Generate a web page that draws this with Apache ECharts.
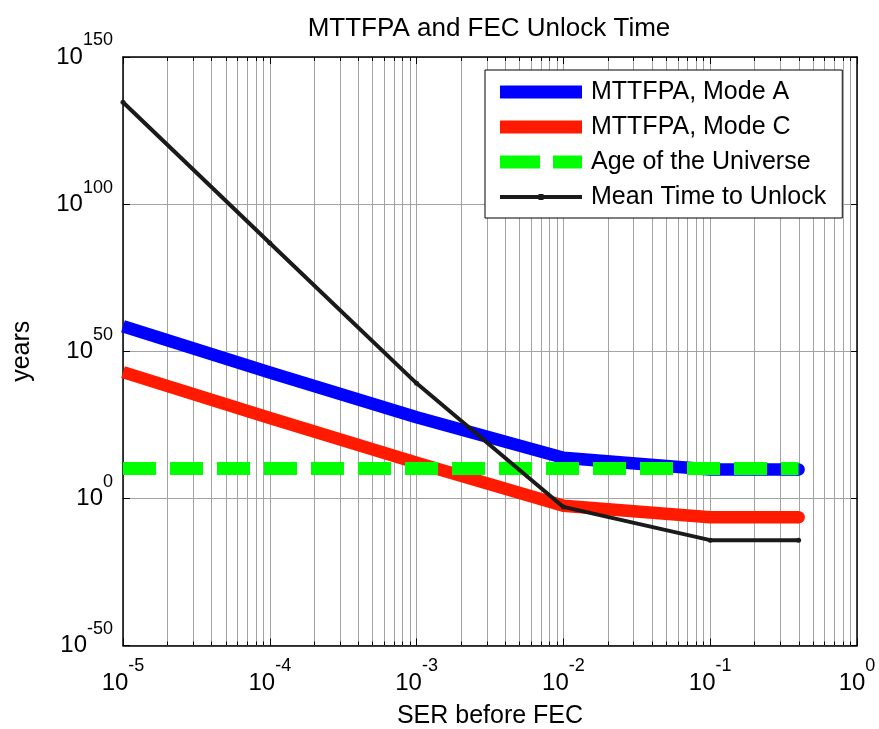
<!DOCTYPE html>
<html>
<head>
<meta charset="utf-8">
<title>MTTFPA and FEC Unlock Time</title>
<script src="https://cdn.jsdelivr.net/npm/echarts@6/dist/echarts.min.js"></script>
<style>
  html, body { margin: 0; padding: 0; background: #ffffff; }
  #chart { width: 879px; height: 729px; }
</style>
</head>
<body>
<div id="chart"></div>
<script>
// Symbol error rate before FEC at which each curve is evaluated
const serValues = [1e-5, 1e-4, 1e-3, 1e-2, 1e-1, 0.4];

// Times in years, given as log10(years)
const modeALog10Years  = [58.5, 42.8, 27.6, 13.8, 9.8, 9.8];
const modeCLog10Years  = [42.9, 27.3, 12.1, -2.5, -6.4, -6.4];
const unlockLog10Years = [134.6, 86.8, 39.1, -2.9, -14.2, -14.2];

// Age of the universe (~1.38e10 years) across the evaluated SER span
const universeSer        = [1e-5, 0.4];
const universeLog10Years = [10.14, 10.14];

// Decade ticks (exponents of 10) and the in-between grid multipliers
const xTickExponents   = [-5, -4, -3, -2, -1, 0];
const yTickExponents   = [-50, 0, 50, 100, 150];
const minorMultipliers = [2, 3, 4, 5, 6, 7, 8, 9];

const FONT = '"Liberation Sans", Arial, Helvetica, sans-serif';
const GRID_COLOR = '#a3a3a3';

// Log-decade grid positions between the labelled decades
const minorExponents = [];
xTickExponents.slice(0, -1).forEach(function (k) {
  minorMultipliers.forEach(function (m) { minorExponents.push(k + Math.log10(m)); });
});

function toPoints(xs, ys) {
  return xs.map(function (x, i) { return [Math.log10(x), ys[i]]; });
}

// Thick curves get a rounded end on their last point only
function withRoundEnd(points, size) {
  return points.map(function (p, i) {
    return i === points.length - 1
      ? { value: p, symbol: 'circle', symbolSize: size }
      : { value: p, symbol: 'none' };
  });
}

function powerLabel(v) {
  return '{b|10}{s|' + Math.round(v) + '}';
}

// "10" sits in the middle of a tall line, the exponent hugs its top
const powerRich = {
  b: { fontFamily: FONT, fontSize: 24, lineHeight: 51, color: '#000', verticalAlign: 'middle' },
  s: { fontFamily: FONT, fontSize: 18, lineHeight: 18, color: '#000', verticalAlign: 'top' }
};

const chart = echarts.init(document.getElementById('chart'), null, { renderer: 'canvas' });

const xMin = xTickExponents[0], xMax = xTickExponents[xTickExponents.length - 1];
const yMin = yTickExponents[0], yMax = yTickExponents[yTickExponents.length - 1];

function boxAxis(extra) {
  return Object.assign({
    type: 'value',
    nameMoveOverlap: false,
    axisLine: { show: true, onZero: false, lineStyle: { color: '#000', width: 1.5 } },
    axisTick: { show: true, inside: true, length: 7, lineStyle: { color: '#000', width: 1 } }
  }, extra);
}

const option = {
  animation: false,
  backgroundColor: '#ffffff',
  title: {
    text: 'MTTFPA and FEC Unlock Time',
    left: 489,
    top: 16,
    padding: 0,
    textAlign: 'center',
    textStyle: { fontFamily: FONT, fontSize: 26, fontWeight: 'normal', color: '#000' }
  },
  grid: {
    left: 123, right: 22, top: 57, bottom: 83.5,
    containLabel: false,
    outerBoundsMode: 'none'
  },
  legend: {
    orient: 'vertical',
    left: 485,
    top: 70,
    padding: [9, 16, 8, 15],
    itemGap: 9,
    itemWidth: 82,
    itemHeight: 13,
    backgroundColor: '#ffffff',
    borderColor: '#000',
    borderWidth: 1,
    borderRadius: 0,
    selectedMode: false,
    textStyle: { fontFamily: FONT, fontSize: 25, lineHeight: 26, color: '#000', padding: [0, 0, 0, 4] },
    data: [
      { name: 'MTTFPA, Mode A', icon: 'rect' },
      { name: 'MTTFPA, Mode C', icon: 'rect' },
      { name: 'Age of the Universe', icon: 'path://M0,0H40V13H0Z M53,0H82V13H53Z' },
      { name: 'Mean Time to Unlock', icon: 'path://M0,4.5H82V8.5H0Z M38.5,3.5H43.5V9.5H38.5Z' }
    ]
  },
  xAxis: [
    boxAxis({
      position: 'bottom',
      min: xMin, max: xMax, interval: 1,
      name: 'SER before FEC',
      nameLocation: 'middle',
      nameGap: 58,
      nameTextStyle: { fontFamily: FONT, fontSize: 25, color: '#000', verticalAlign: 'top' },
      axisLabel: { show: true, margin: 12, fontSize: 24, formatter: powerLabel, rich: powerRich },
      splitLine: { show: true, lineStyle: { color: GRID_COLOR, width: 1 } }
    }),
    boxAxis({
      position: 'top',
      min: xMin, max: xMax, interval: 1,
      axisLabel: { show: false },
      splitLine: { show: false }
    })
  ],
  yAxis: [
    boxAxis({
      position: 'left',
      min: yMin, max: yMax, interval: 50,
      name: 'years',
      nameLocation: 'middle',
      nameGap: 88,
      nameRotate: 90,
      nameTextStyle: { fontFamily: FONT, fontSize: 25, color: '#000' },
      axisLabel: { show: true, margin: 10, fontSize: 24, formatter: powerLabel, rich: powerRich },
      splitLine: { show: true, lineStyle: { color: GRID_COLOR, width: 1 } }
    }),
    boxAxis({
      position: 'right',
      min: yMin, max: yMax, interval: 50,
      axisLabel: { show: false },
      splitLine: { show: false }
    })
  ],
  series: [
    {
      // minor decade grid lines with short ticks on the bottom and top edges
      type: 'custom',
      silent: true,
      xAxisIndex: 0,
      yAxisIndex: 0,
      z: 1,
      data: minorExponents.map(function (v) { return [v, yMin]; }),
      encode: { x: 0, y: 1 },
      renderItem: function (params, api) {
        const x = api.value(0);
        const b = api.coord([x, yMin]);
        const t = api.coord([x, yMax]);
        const px = Math.round(b[0]) + 0.5;
        return {
          type: 'group',
          children: [
            { type: 'line', shape: { x1: px, y1: b[1], x2: px, y2: t[1] },
              style: { stroke: GRID_COLOR, lineWidth: 1 } },
            { type: 'line', shape: { x1: px, y1: b[1], x2: px, y2: b[1] - 4 },
              style: { stroke: '#000', lineWidth: 1 } },
            { type: 'line', shape: { x1: px, y1: t[1], x2: px, y2: t[1] + 4 },
              style: { stroke: '#000', lineWidth: 1 } }
          ]
        };
      }
    },
    {
      name: 'MTTFPA, Mode A',
      type: 'line',
      data: withRoundEnd(toPoints(serValues, modeALog10Years), 12.5),
      showSymbol: true,
      color: '#0000ff',
      itemStyle: { color: '#0000ff' },
      lineStyle: { color: '#0000ff', width: 12.5, cap: 'butt', join: 'round' },
      z: 3
    },
    {
      name: 'MTTFPA, Mode C',
      type: 'line',
      data: withRoundEnd(toPoints(serValues, modeCLog10Years), 12.5),
      showSymbol: true,
      color: '#ff1a00',
      itemStyle: { color: '#ff1a00' },
      lineStyle: { color: '#ff1a00', width: 12.5, cap: 'butt', join: 'round' },
      z: 4
    },
    {
      name: 'Age of the Universe',
      type: 'line',
      data: toPoints(universeSer, universeLog10Years),
      showSymbol: false,
      symbol: 'none',
      color: '#00ff00',
      lineStyle: { color: '#00ff00', width: 13, type: [33, 14], cap: 'butt' },
      z: 5
    },
    {
      name: 'Mean Time to Unlock',
      type: 'line',
      data: toPoints(serValues, unlockLog10Years),
      showSymbol: true,
      symbol: 'circle',
      symbolSize: 5,
      color: '#1a1a1a',
      itemStyle: { color: '#1a1a1a' },
      lineStyle: { color: '#1a1a1a', width: 4 },
      z: 6
    }
  ]
};

chart.setOption(option);
</script>
</body>
</html>
